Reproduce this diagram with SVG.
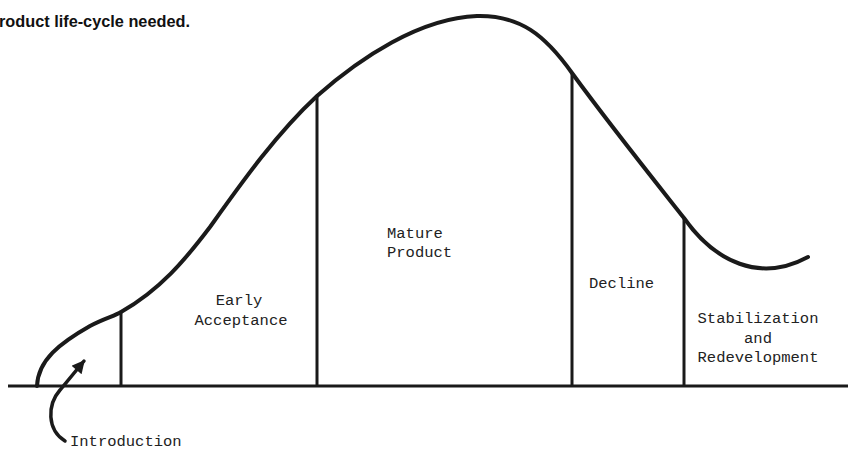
<svg xmlns="http://www.w3.org/2000/svg" width="848" height="452" viewBox="0 0 848 452">
<style>
.bg{fill:#fff}
.curve{fill:none;stroke:#1a1a1a;stroke-width:4;stroke-linecap:round;stroke-linejoin:round}
.rule{fill:none;stroke:#1a1a1a;stroke-width:3}
.lbl{font-family:"Liberation Mono","DejaVu Sans Mono",monospace;font-size:15.5px;fill:#222}
.mid{text-anchor:middle}
.title{font-family:"Liberation Sans","Arial",sans-serif;font-weight:bold;font-size:16.3px;fill:#111}
.arrow{fill:none;stroke:#1a1a1a;stroke-width:3.5;stroke-linecap:round}
</style>
<defs>
<marker id="ah" viewBox="0 0 10 10" refX="9" refY="5" markerUnits="userSpaceOnUse" markerWidth="15" markerHeight="13" orient="auto">
<path d="M0,0 L10,5 L0,10 z" fill="#1a1a1a"/>
</marker>
</defs>
<rect class="bg" width="848" height="452"/>
<text class="title" x="-1" y="27">roduct life-cycle needed.</text>

<g id="axis">
<line class="rule" x1="8" y1="386" x2="848" y2="386"/>
</g>
<g id="curve">
<path class="curve" d="M37,386 C38,360 60,343 90,326 C105,318 115,316 121,312 C160,290 185,260 210,227 C240,185 275,135 317,96 C360,58 420,18 477,16 C520,15 545,35 572,73 C610,125 650,175 684,218 C715,262 760,283 808,257"/>
</g>
<g id="dividers">
<line class="rule" x1="121" y1="311" x2="121" y2="386"/>
<line class="rule" x1="317" y1="96" x2="317" y2="386"/>
<line class="rule" x1="572" y1="73" x2="572" y2="386"/>
<line class="rule" x1="684" y1="218" x2="684" y2="386"/>
</g>

<g id="introduction">
<text class="lbl" x="70" y="446">Introduction</text>
</g>
<g id="early-acceptance">
<text class="lbl mid" x="239" y="305">Early</text>
<text class="lbl mid" x="241" y="325">Acceptance</text>
</g>
<g id="mature-product">
<text class="lbl" x="387" y="238">Mature</text>
<text class="lbl" x="387" y="257">Product</text>
</g>
<g id="decline">
<text class="lbl" x="589" y="288">Decline</text>
</g>
<g id="stabilization">
<text class="lbl mid" x="758" y="323">Stabilization</text>
<text class="lbl mid" x="758" y="343">and</text>
<text class="lbl mid" x="758" y="362">Redevelopment</text>
</g>

<g id="connectors">
<path class="arrow" d="M65,441 C47,430 47,405 60,390 L84,361" marker-end="url(#ah)"/>
</g>
</svg>
